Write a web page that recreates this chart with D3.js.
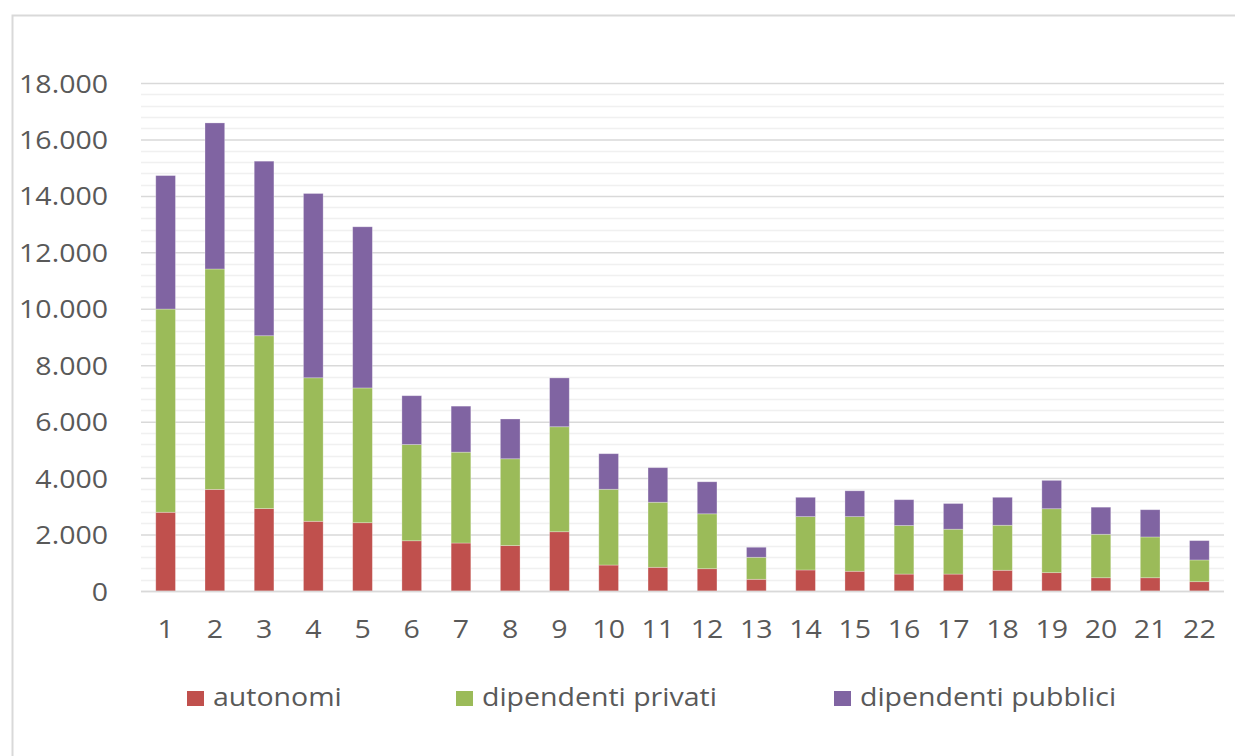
<!DOCTYPE html>
<html>
<head>
<meta charset="utf-8">
<script src="https://cdn.jsdelivr.net/npm/d3@7"></script>
<style>
  html, body { margin: 0; padding: 0; background: #ffffff; }
  svg { display: block; }
  text { font-family: "Open Sans", "Noto Sans", sans-serif; fill: #595959; }
</style>
</head>
<body>
<svg id="chart" width="1235" height="756"></svg>
<script>
const categories = ["1","2","3","4","5","6","7","8","9","10","11","12","13","14","15","16","17","18","19","20","21","22"];
const seriesNames = ["autonomi", "dipendenti privati", "dipendenti pubblici"];
const autonomi = [2790, 3600, 2920, 2470, 2420, 1780, 1700, 1610, 2100, 920, 840, 790, 415, 745, 700, 600, 600, 735, 650, 470, 470, 330];
const dipendentiPrivati = [7200, 7810, 6125, 5085, 4775, 3410, 3220, 3075, 3720, 2685, 2305, 1945, 780, 1890, 1935, 1720, 1590, 1595, 2265, 1540, 1445, 770];
const dipendentiPubblici = [4730, 5175, 6185, 6530, 5710, 1730, 1630, 1410, 1730, 1260, 1225, 1135, 355, 685, 915, 915, 910, 990, 1005, 960, 965, 685];
const yTicks = [0, 2000, 4000, 6000, 8000, 10000, 12000, 14000, 16000, 18000];
const colors = ["#C0504D", "#9BBB59", "#8064A2"];

const svg = d3.select("#chart");
const W = 1235, H = 756;
const plot = { left: 141, right: 1224, top: 83, bottom: 591 };
const SX = 1.14;

// outer frame (cropped)
svg.append("rect")
  .attr("x", 12.5).attr("y", 15.5)
  .attr("width", W + 20).attr("height", H + 20)
  .attr("fill", "none").attr("stroke", "#d9d9d9").attr("stroke-width", 2);

const data = categories.map((c, i) => ({
  cat: c,
  "autonomi": autonomi[i],
  "dipendenti privati": dipendentiPrivati[i],
  "dipendenti pubblici": dipendentiPubblici[i]
}));

const x = d3.scaleBand().domain(categories).range([plot.left, plot.right]).paddingInner(0.6).paddingOuter(0.3);
const y = d3.scaleLinear().domain([0, 18000]).range([plot.bottom, plot.top]);

// minor gridlines
const minor = d3.range(0, 18001, 400).filter(v => v % 2000 !== 0);
svg.append("g").selectAll("line").data(minor).join("line")
  .attr("x1", plot.left).attr("x2", plot.right)
  .attr("y1", d => Math.round(y(d)) + 0.5).attr("y2", d => Math.round(y(d)) + 0.5)
  .attr("stroke", "#f0f0f0").attr("stroke-width", 1.5);

// major gridlines via axis
const yAxis = d3.axisLeft(y).tickValues(yTicks)
  .tickSize(-(plot.right - plot.left))
  .tickPadding(33)
  .tickFormat(d => d3.format(",")(d).replace(/,/g, "."));
const gy = svg.append("g").attr("transform", `translate(${plot.left},0)`).call(yAxis);
gy.select(".domain").remove();
gy.selectAll(".tick line").attr("stroke", "#d9d9d9").attr("stroke-width", 1.5);
gy.selectAll(".tick text")
  .attr("font-size", 25).attr("fill", "#595959")
  .attr("dy", "0.36em")
  .each(function() {
    const t = d3.select(this);
    const xx = +t.attr("x");
    t.attr("x", xx / SX).attr("transform", `scale(${SX},1)`);
  });

// stacked bars
const stack = d3.stack().keys(seriesNames)(data);
svg.append("g").selectAll("g").data(stack).join("g")
  .attr("fill", (d, i) => colors[i])
  .selectAll("rect").data(d => d).join("rect")
  .attr("x", d => x(d.data.cat))
  .attr("width", x.bandwidth())
  .attr("y", d => y(d[1]))
  .attr("height", d => y(d[0]) - y(d[1]))
  .attr("stroke", "#ffffff").attr("stroke-opacity", 0.35).attr("stroke-width", 0.8);

// baseline
svg.append("line")
  .attr("x1", plot.left).attr("x2", plot.right)
  .attr("y1", plot.bottom + 0.5).attr("y2", plot.bottom + 0.5)
  .attr("stroke", "#d9d9d9").attr("stroke-width", 1.5);

// x axis labels
const xAxis = d3.axisBottom(x).tickSize(0).tickPadding(0);
const gx = svg.append("g").attr("transform", `translate(0,${plot.bottom})`).call(xAxis);
gx.select(".domain").remove();
gx.selectAll(".tick text")
  .attr("font-size", 25).attr("fill", "#595959")
  .attr("y", 47).attr("dy", 0)
  .attr("transform", `scale(${SX},1)`);

// legend
const legendX = [187, 456, 834];
const lg = svg.append("g");
seriesNames.forEach((name, i) => {
  lg.append("rect")
    .attr("x", legendX[i]).attr("y", 691)
    .attr("width", 17).attr("height", 15)
    .attr("fill", colors[i]);
  lg.append("text")
    .attr("x", (legendX[i] + 26) / SX).attr("y", 706)
    .attr("transform", `scale(${SX},1)`)
    .attr("font-size", 25).attr("fill", "#595959")
    .text(name);
});
</script>
</body>
</html>
